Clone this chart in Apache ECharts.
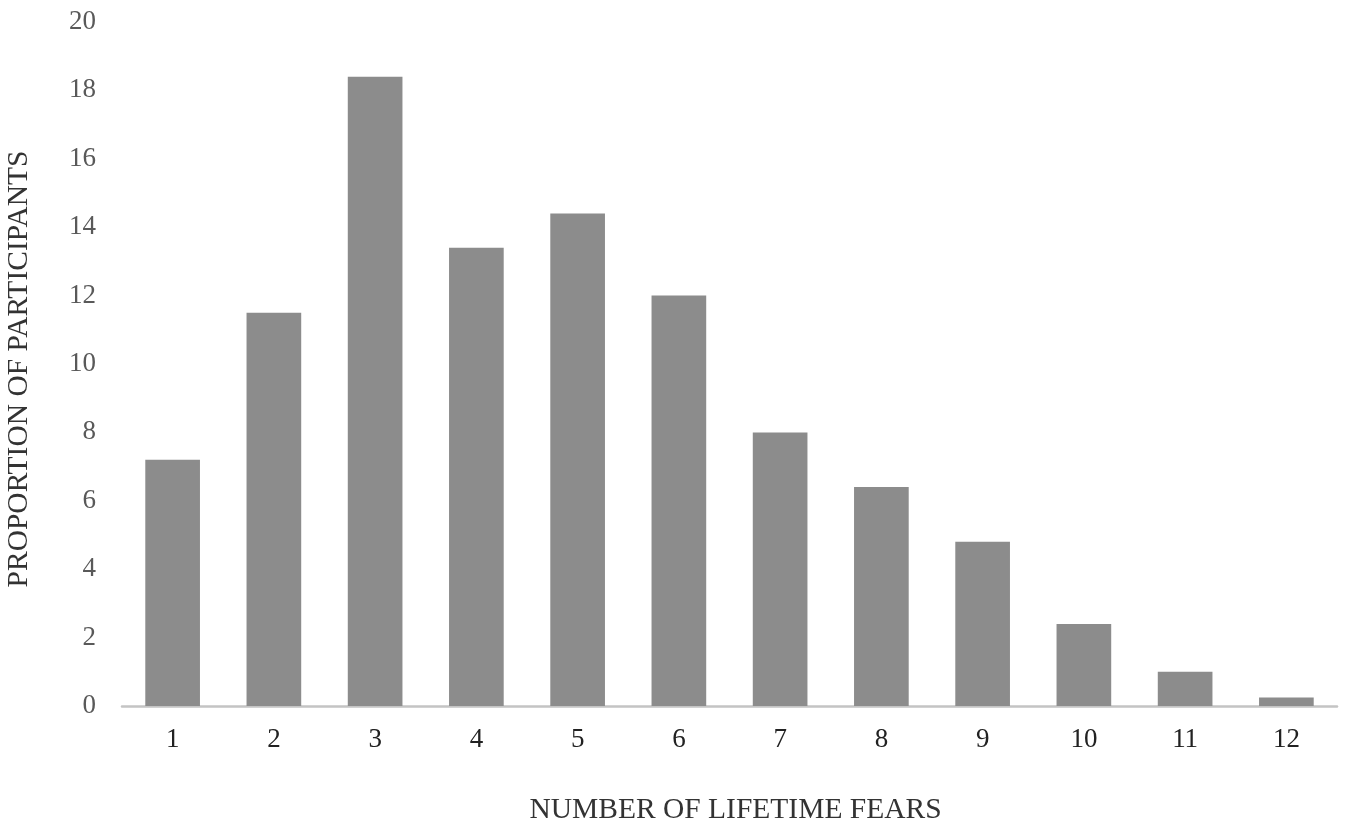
<!DOCTYPE html>
<html lang="en">
<head>
    <meta charset="utf-8">
    <title>Number of lifetime fears</title>
    <script src="https://cdn.jsdelivr.net/npm/echarts@6/dist/echarts.min.js"></script>
    <style>
        html, body { margin: 0; padding: 0; background: #fff; }
        #main { width: 1346px; height: 819px; }
    </style>
</head>
<body>
<div id="main"></div>
<script type="text/javascript">
    // data
    var fearCounts = ['1', '2', '3', '4', '5', '6', '7', '8', '9', '10', '11', '12'];
    var proportions = [7.2, 11.5, 18.4, 13.4, 14.4, 12.0, 8.0, 6.4, 4.8, 2.4, 1.0, 0.25];

    var chart = echarts.init(document.getElementById('main'));
    var serif = '"Liberation Serif", "DejaVu Serif", serif';

    var option = {
        animation: false,
        grid: { left: 122, right: 9, top: 22, bottom: 113, containLabel: false, outerBoundsMode: 'none' },
        xAxis: {
            type: 'category',
            data: fearCounts,
            name: 'NUMBER OF LIFETIME FEARS',
            nameLocation: 'middle',
            nameGap: 89,
            nameTextStyle: { fontFamily: serif, fontSize: 29.5, color: '#333', padding: [0, 0, 0, 12] },
            axisLine: { lineStyle: { color: '#c4c4c4', width: 2.5 } },
            axisTick: { show: false },
            axisLabel: { fontFamily: serif, fontSize: 27, color: '#222', margin: 20 }
        },
        yAxis: {
            type: 'value',
            min: 0,
            max: 20,
            interval: 2,
            name: 'PROPORTION OF PARTICIPANTS',
            nameLocation: 'middle',
            nameGap: 88,
            nameTextStyle: { fontFamily: serif, fontSize: 29.5, color: '#333', padding: [0, 10, 0, 0] },
            axisLine: { show: false },
            axisTick: { show: false },
            splitLine: { show: false },
            axisLabel: { fontFamily: serif, fontSize: 27, color: '#595959', margin: 26 }
        },
        series: [{
            type: 'bar',
            data: proportions,
            barWidth: '54%',
            itemStyle: { color: '#8c8c8c' }
        }]
    };
    chart.setOption(option);
</script>
</body>
</html>
